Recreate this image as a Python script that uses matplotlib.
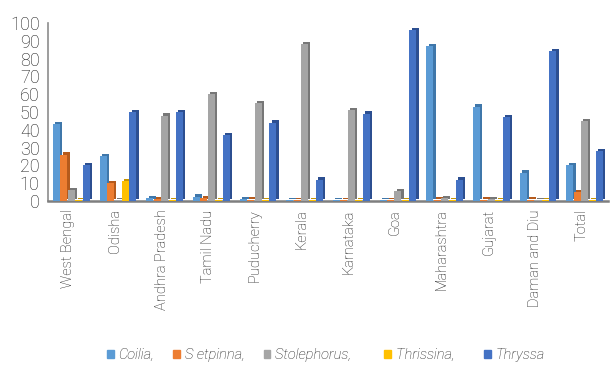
import numpy as np
import matplotlib
matplotlib.use('Agg')
import matplotlib.pyplot as plt
from matplotlib.patches import Patch
from matplotlib.transforms import offset_copy, ScaledTranslation

states = ['West Bengal', 'Odisha', 'Andhra Pradesh', 'Tamil Nadu', 'Puducherry',
          'Kerala', 'Karnataka', 'Goa', 'Maharashtra', 'Gujarat', 'Daman and Diu', 'Total']

coilia      = [43, 25, 1.5, 2.5, 1, 0.5, 0.5, 0.5, 87, 53, 16, 20]
setipinna   = [26, 10, 1, 1.5, 0.8, 0.5, 0.5, 0.5, 0.8, 0.8, 0.8, 5]
stolephorus = [6, 0.3, 48, 60, 55, 88, 51, 5.5, 1.5, 1.2, 0.5, 45]
thrissina   = [0.5, 11, 0.5, 0.5, 0.3, 0.4, 0.4, 0.4, 0.5, 0.5, 0.3, 0.5]
thryssa     = [20, 50, 50, 37, 44, 12, 49, 96, 12, 47, 84, 28]

series = [coilia, setipinna, stolephorus, thrissina, thryssa]
labels = ['Coilia,', 'S etpinna,', 'Stolephorus,    ', 'Thrissina,   ', 'Thryssa']
front = ['#5B9BD5', '#ED7D31', '#A5A5A5', '#FFC000', '#4472C4']
side  = ['#3F77AA', '#B55A1C', '#777777', '#C79500', '#2C4F91']

plt.rcParams['font.family'] = ['Roboto', 'DejaVu Sans']

W, H = 611, 365
fig = plt.figure(figsize=(W / 100, H / 100), dpi=100)
ax = fig.add_axes([48 / W, 1 - 201 / H, 560 / W, 178 / H])

x = np.arange(len(states))
bw = 0.15
step = 0.16
# darker copy shifted up/right gives the extruded look
depth = offset_copy(ax.transData, fig=fig, x=2.3, y=2.3, units='dots')

for i, vals in enumerate(series):
    pos = x + (i - 2) * step
    ax.bar(pos, vals, bw, color=side[i], transform=depth, zorder=2 + i * 2)
    ax.bar(pos, vals, bw, color=front[i], zorder=3 + i * 2)

ax.set_xlim(-0.5, len(states) - 0.5)
ax.set_ylim(0, 100)
ax.set_yticks(np.arange(0, 101, 10))
ax.set_xticks(x)
ax.set_xticklabels(states, rotation=90, fontsize=10.5, fontweight='light', color='#1a1a1a')
ax.tick_params(axis='y', length=0, pad=6, labelsize=13, labelcolor='#1a1a1a')
ax.tick_params(axis='x', length=0, pad=6)
for t in ax.get_yticklabels():
    t.set_fontweight('light')
for t in ax.get_xticklabels():
    t.set_transform(t.get_transform() + ScaledTranslation(-3 / 100, 0, fig.dpi_scale_trans))

for s in ['top', 'right']:
    ax.spines[s].set_visible(False)
ax.spines['left'].set_color('#8C8C8C')
ax.spines['left'].set_linewidth(1.2)
ax.spines['bottom'].set_color('#7F7F7F')
ax.spines['bottom'].set_linewidth(1.8)

handles = [Patch(color=c) for c in front]
fig.legend(handles, labels, loc='center', bbox_to_anchor=(326 / W, 1 - 355 / H), ncol=5,
           frameon=False, handlelength=0.45, handleheight=0.45, handletextpad=0.35,
           columnspacing=1.3, prop={'style': 'italic', 'size': 10.5, 'weight': 'light'},
           labelcolor='#1a1a1a')

fig.savefig('out.png', dpi=100)
